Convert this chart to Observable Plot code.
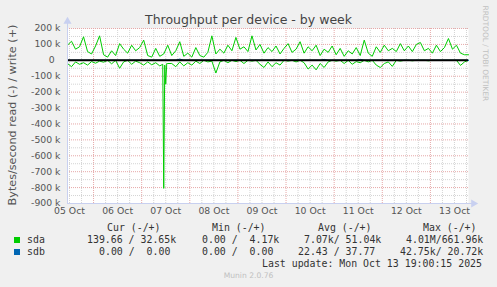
<!DOCTYPE html>
<html>
<head>
<meta charset="utf-8">
<script src="https://cdn.jsdelivr.net/npm/d3@7"></script>
<script src="https://cdn.jsdelivr.net/npm/@observablehq/plot@0.6"></script>
<style>
  html, body { margin: 0; padding: 0; background: #f0f0f0; }
  #wrap { position: relative; width: 497px; height: 287px; overflow: hidden; font-family: "DejaVu Sans", sans-serif; }
  #chart { position: absolute; left: 0; top: 0; }
  .mono { position: absolute; font-family: "DejaVu Sans Mono", monospace; font-size: 9.9px; line-height: 12px; white-space: pre; color: #333; }
  .sw { position: absolute; width: 6px; height: 6px; }
</style>
</head>
<body>
<div id="wrap">
  <div id="chart"></div>
  <div id="legend"></div>
</div>
<script>
// ---- data (values in k bytes/second, every 2 hours from 05 Oct 11:00) ----
const sdaWrite = [95,120,70,85,148,55,40,90,154,35,20,60,30,105,70,45,95,60,80,127,30,20,75,25,40,95,30,60,117,25,45,20,80,30,20,50,154,40,70,45,95,60,144,70,85,55,154,65,100,45,80,55,90,40,75,105,50,70,117,45,85,60,95,30,70,50,90,35,75,25,60,40,80,30,127,45,25,85,50,95,60,75,55,105,60,90,55,100,112,60,75,45,95,55,80,137,70,95,45,35,35];
const sdaRead = [20,40,10,25,15,30,8,18,5,12,0,22,0,50,10,0,25,5,15,30,10,28,15,35,805,20,20,40,10,35,15,30,5,20,0,10,5,80,10,0,15,0,8,0,20,0,5,0,25,45,10,40,15,30,0,5,0,10,0,15,55,30,60,20,45,10,0,5,0,20,0,25,8,15,0,10,0,30,45,20,10,38,0,5,0,0,3,0,0,0,3,0,0,0,0,0,0,0,32,10,0];
// finer samples around the 07 Oct read spike: [hours after 05 Oct 11:00, k]
const sdaReadSpike = [[47.5, 25], [48.5, 30], [49, 150], [49.5, 20]];
const sdbWriteBlips = [[28, 8], [64, 6], [73, 6]];   // [index, k]
const sdbReadBlips = [[40, 2]];

const dayLabels = ["05 Oct","06 Oct","07 Oct","08 Oct","09 Oct","10 Oct","11 Oct","12 Oct","13 Oct"];
const yTicks = [200,100,0,-100,-200,-300,-400,-500,-600,-700,-800,-900];
const yTickLabels = ["200 k","100 k","0","-100 k","-200 k","-300 k","-400 k","-500 k","-600 k","-700 k","-800 k","-900 k"];

const legendHeaders = ["Cur (-/+)","Min (-/+)","Avg (-/+)","Max (-/+)"];
const legendRows = [
  {name: "sda", color: "#00cc00", cells: ["139.66 / 32.65k","0.00 /  4.17k","7.07k/ 51.04k","4.01M/661.96k"]},
  {name: "sdb", color: "#0066b3", cells: ["0.00 /  0.00","0.00 /  0.00","22.43 / 37.77","42.75k/ 20.72k"]}
];
const titleText = "Throughput per device - by week";
const yLabelText = "Bytes/second read (-) / write (+)";
const sideText = "RRDTOOL / TOBI OETIKER";
const lastUpdate = "Last update: Mon Oct 13 19:00:15 2025";
const footer = "Munin 2.0.76";

// ---- build tables ----
const start = new Date(2025, 9, 5, 11, 0);
const end = new Date(2025, 9, 13, 19, 0);
const H = 3600e3;
const t = i => new Date(start.getTime() + i * 2 * H);
const sdaW = sdaWrite.map((v, i) => ({t: t(i), v: v * 1000}));
const sdaR = sdaRead.map((v, i) => ({t: t(i), v: -v * 1000}))
  .concat(sdaReadSpike.map(([h, v]) => ({t: new Date(start.getTime() + h * H), v: -v * 1000})))
  .sort((a, b) => a.t - b.t);
const sdbW = sdaWrite.map((_, i) => { const b = sdbWriteBlips.find(d => d[0] === i); return {t: t(i), v: b ? b[1] * 1000 : 0}; });
const sdbR = sdaRead.map((_, i) => { const b = sdbReadBlips.find(d => d[0] === i); return {t: t(i), v: b ? -b[1] * 1000 : 0}; });

const labelTimes = dayLabels.map((_, i) => new Date(2025, 9, 5 + i, 12));
const majorX = d3.timeDay.range(start, end);
const minorX = d3.timeHour.every(6).range(start, end).filter(d => d.getHours() !== 0);
const yVals = yTicks.map(v => v * 1000);
const majorY = yVals.filter(v => v !== 0);
const minorY = d3.range(-850000, 200000, 100000);

const chart = Plot.plot({
  width: 497,
  height: 225,
  marginTop: 28,
  marginBottom: 22,
  marginLeft: 67,
  marginRight: 29,
  style: {background: "transparent", fontFamily: "DejaVu Sans", fontSize: "9.3px", overflow: "visible"},
  x: {type: "time", domain: [start, end], label: null},
  y: {domain: [-900000, 200000], label: null},
  marks: [
    Plot.frame({fill: "white", stroke: null}),
    Plot.ruleY(minorY, {stroke: "#d4d4d4", strokeDasharray: "1,1"}),
    Plot.ruleX(minorX, {stroke: "#d4d4d4", strokeDasharray: "1,1"}),
    Plot.ruleY(majorY, {stroke: "#e6a8a8", strokeDasharray: "1,1"}),
    Plot.ruleX(majorX, {stroke: "#e6a8a8", strokeDasharray: "1,1"}),
    Plot.line(sdaR, {x: "t", y: "v", stroke: "#00cc00", strokeWidth: 1}),
    Plot.line(sdaW, {x: "t", y: "v", stroke: "#00cc00", strokeWidth: 1}),
    Plot.line(sdbR, {x: "t", y: "v", stroke: "#0066b3", strokeWidth: 1}),
    Plot.line(sdbW, {x: "t", y: "v", stroke: "#0066b3", strokeWidth: 1}),
    Plot.ruleY([0], {stroke: "#000", strokeWidth: 2}),
    Plot.ruleX([start], {y1: -900000, y2: 235000, stroke: "#c8d0f0"}),
    Plot.ruleY([-900000], {x1: start, x2: new Date(end.getTime() + 3 * H), stroke: "#c8d0f0"}),
    Plot.dot([0], {frameAnchor: "top-left", dy: -7, symbol: "triangle", r: 3, fill: "#c8d0f0", stroke: null}),
    Plot.dot([0], {frameAnchor: "bottom-right", dx: 5, symbol: "triangle", rotate: 90, r: 3, fill: "#c8d0f0", stroke: null}),
    Plot.axisY(yVals, {
      tickSize: 0, tickPadding: 7, color: "#555", fontSize: 9.3,
      tickFormat: d => { const s = yTickLabels[yVals.indexOf(d)]; return s === "0" ? "0\u00a0\u00a0" : s; }
    }),
    Plot.axisX(labelTimes, {
      tickSize: 0, tickPadding: 4, color: "#555", fontSize: 9.3,
      tickFormat: d => dayLabels[labelTimes.findIndex(x => +x === +d)]
    }),
    Plot.text([titleText], {frameAnchor: "top", dx: -19.5, dy: -5, lineAnchor: "bottom", fontSize: 12.5, fill: "#444"}),
    Plot.text([yLabelText], {frameAnchor: "left", dx: -55, dy: -1, rotate: -90, textAnchor: "middle", fontSize: 11.2, fill: "#555"}),
    Plot.text([sideText], {frameAnchor: "top-right", dx: 20, dy: -23, rotate: 90, textAnchor: "start", fontSize: 7.45, fill: "#c0c0c0"})
  ]
});
document.getElementById("chart").appendChild(chart);

// ---- legend ----
const leg = document.getElementById("legend");
function put(text, left, centerY, extra) {
  const d = document.createElement("div");
  d.className = "mono";
  d.textContent = text;
  d.style.left = left + "px";
  d.style.top = (centerY - 6) + "px";
  if (extra) Object.assign(d.style, extra);
  leg.appendChild(d);
  return d;
}
const headerX = [107, 212, 318, 423];
legendHeaders.forEach((h, i) => put(h, headerX[i], 228));
const cellX = [[87, 202, 304, 406], [99, 202, 298, 400]];
const rowY = [239.5, 252];
legendRows.forEach((r, j) => {
  const sw = document.createElement("div");
  sw.className = "sw";
  sw.style.left = "14px";
  sw.style.top = (rowY[j] - 3) + "px";
  sw.style.background = r.color;
  leg.appendChild(sw);
  put(r.name, 27, rowY[j]);
  r.cells.forEach((c, i) => put(c, cellX[j][i], rowY[j]));
});
put(lastUpdate, 262, 264);
put(footer, 0, 276, {fontFamily: "DejaVu Sans", fontSize: "7.6px", color: "#c0c0c0", width: "497px", textAlign: "center"});
</script>
</body>
</html>
